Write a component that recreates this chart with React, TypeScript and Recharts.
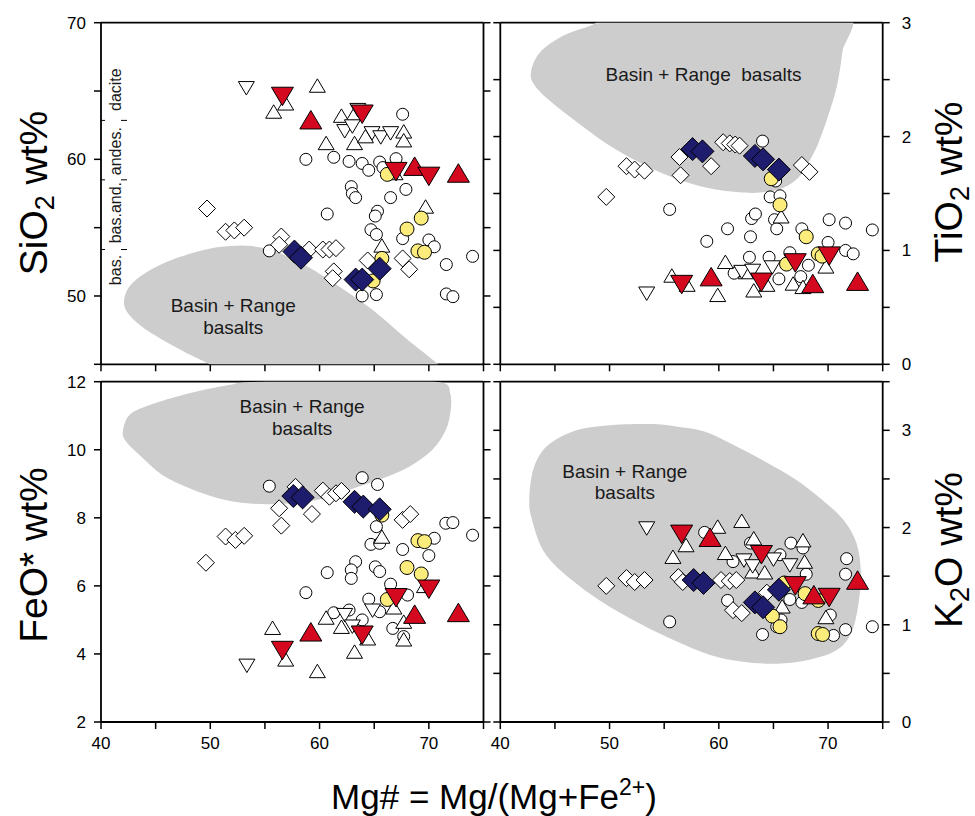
import React from "react";
import { ScatterChart, Scatter, XAxis, YAxis, ReferenceDot, ReferenceLine } from "recharts";

type Pt = [number, number];

// ---- SiO2 vs Mg# ----
const siCircles: Pt[] = [
  [67.6, 63.3], [58.75, 60.0], [61.3, 60.15], [62.7, 59.85], [63.9, 59.7], [64.5, 59.2], [65.5, 59.8], [65.8, 59.4],
  [67.0, 60.05], [67.9, 57.8], [66.5, 57.2], [62.9, 58.0], [63.0, 57.5], [63.3, 57.2], [60.7, 56.0], [65.3, 56.2],
  [65.1, 55.85], [64.7, 54.85], [65.2, 54.5], [67.6, 54.2], [70.0, 54.1], [70.5, 53.6], [71.6, 52.3], [74.0, 52.9],
  [71.6, 50.15], [72.2, 49.95], [55.4, 53.3], [63.9, 50.0], [65.2, 50.1],
];
const siYellow: Pt[] = [[66.2, 58.9], [69.3, 55.7], [68.0, 54.9], [69.0, 53.3], [69.6, 53.2], [65.7, 52.75], [64.9, 51.1]];
const siOpenUp: Pt[] = [
  [55.8, 63.5], [56.9, 64.1], [59.8, 65.4], [60.6, 61.2], [62.0, 63.2], [63.2, 63.35], [63.2, 61.2], [64.2, 61.7],
  [67.7, 62.05], [67.7, 61.4], [69.7, 56.55], [65.7, 53.7], [66.9, 59.0],
];
const siOpenDown: Pt[] = [[53.3, 65.2], [62.3, 62.05], [63.0, 62.4], [64.8, 61.9], [65.6, 61.6], [66.5, 61.9], [63.5, 63.6]];
const siRedUp: Pt[] = [[59.2, 62.9], [68.7, 59.5], [72.7, 59.0]];
const siRedDown: Pt[] = [[56.6, 64.6], [63.9, 63.3], [67.0, 59.1], [70.0, 58.75]];
const siDiamonds: Pt[] = [
  [49.7, 56.4], [51.4, 54.7], [52.2, 54.8], [53.1, 55.0], [56.5, 54.35], [56.3, 53.75], [59.05, 53.4], [60.3, 53.4],
  [60.9, 53.4], [61.5, 53.5], [61.3, 51.8], [61.2, 51.3], [64.4, 52.6], [67.6, 52.75], [68.2, 51.95],
];
const siNavy: Pt[] = [[57.7, 53.25], [58.3, 52.8], [63.3, 51.2], [63.9, 51.2], [65.5, 52.0]];
const siField: Pt[] = [
  [42.1, 49.6], [42.6, 50.7], [44.1, 51.7], [46.5, 52.65], [49.6, 53.4], [51.8, 53.65], [53.8, 53.65], [56.0, 53.25],
  [58.8, 52.2], [61.8, 50.7], [64.9, 48.95], [67.9, 46.9], [71.4, 44.6], [72.7, 43.2], [62.0, 43.0], [52.5, 44.3],
  [49.2, 45.3], [46.6, 46.35], [44.0, 47.6], [42.5, 48.7],
];
const rockBands = ["dacite", "andes.", "bas.and.", "bas."];
const rockBandCentres = [65.1, 60.6, 56.1, 51.9];
const rockBandLimits = [62.85, 58.5, 53.4];

// ---- TiO2 vs Mg# ----
const tiCircles: Pt[] = [
  [64.0, 1.96], [55.5, 1.36], [58.9, 1.08], [60.8, 1.19], [62.9, 1.12], [63.0, 1.28], [63.35, 1.32], [64.7, 1.47],
  [65.6, 1.48], [65.1, 1.27], [65.3, 1.19], [67.6, 1.19], [70.1, 1.27], [71.6, 1.24], [74.05, 1.18], [70.0, 1.07],
  [71.6, 1.0], [72.3, 0.97], [66.5, 0.98], [64.6, 0.94], [62.8, 0.94], [61.4, 0.8], [65.2, 1.61], [67.5, 0.77],
  [68.2, 0.87], [65.5, 0.75],
];
const tiYellow: Pt[] = [[64.8, 1.63], [65.6, 1.4], [68.0, 1.12], [69.1, 0.97], [69.45, 0.95], [66.2, 0.88]];
const tiOpenUp: Pt[] = [
  [55.7, 0.78], [57.1, 0.7], [59.9, 0.61], [60.6, 0.9], [62.5, 0.81], [63.2, 0.65], [64.4, 0.7], [65.7, 1.3],
  [66.8, 0.71], [67.7, 0.68], [69.8, 0.86],
];
const tiOpenDown: Pt[] = [[53.4, 0.62], [62.1, 0.81], [63.1, 0.82], [64.9, 0.85]];
const tiRedUp: Pt[] = [[59.3, 0.77], [68.6, 0.71], [72.7, 0.73]];
const tiRedDown: Pt[] = [[56.6, 0.7], [63.9, 0.72], [67.0, 0.89], [70.1, 0.95]];
const tiDiamonds: Pt[] = [
  [49.7, 1.47], [51.55, 1.74], [52.3, 1.71], [53.2, 1.7], [56.4, 1.82], [56.5, 1.66], [59.3, 1.74], [60.4, 1.95],
  [61.0, 1.94], [61.5, 1.93], [61.9, 1.92], [67.6, 1.75], [68.3, 1.69],
];
const tiNavy: Pt[] = [[57.6, 1.89], [58.5, 1.87], [63.3, 1.83], [64.05, 1.8], [65.5, 1.71]];
const tiField: Pt[] = [
  [42.8, 2.56], [43.2, 2.68], [44.2, 2.79], [46.1, 2.9], [48.2, 2.97], [50.5, 3.05], [61.0, 3.2], [71.6, 3.1],
  [71.3, 2.74], [70.8, 2.44], [70.0, 2.18], [69.1, 1.94], [68.2, 1.77], [67.3, 1.64], [65.9, 1.55], [64.0, 1.51],
  [61.9, 1.51], [58.9, 1.55], [55.8, 1.64], [52.8, 1.77], [49.7, 1.94], [46.7, 2.15], [44.2, 2.34], [43.0, 2.47],
];

// ---- FeO* vs Mg# ----
const feCircles: Pt[] = [
  [55.4, 8.93], [63.9, 9.18], [65.3, 8.98], [65.2, 7.74], [64.7, 7.22], [65.5, 7.25], [67.6, 7.07], [70.0, 6.89],
  [70.5, 7.4], [71.55, 7.84], [72.2, 7.86], [74.0, 7.49], [63.3, 6.71], [62.9, 6.47], [62.9, 6.22], [60.7, 6.39],
  [65.1, 6.56], [65.5, 6.42], [66.5, 6.05], [58.75, 5.8], [64.5, 5.61], [65.5, 5.24], [68.05, 5.73], [61.3, 5.21],
  [62.7, 5.29], [63.9, 5.0], [66.7, 4.75], [67.7, 4.51],
];
const feYellow: Pt[] = [[65.7, 8.08], [69.0, 7.33], [69.6, 7.3], [68.0, 6.54], [69.3, 6.35], [66.2, 5.6]];
const feOpenUp: Pt[] = [
  [55.7, 4.77], [56.9, 3.84], [59.8, 3.5], [60.6, 5.07], [62.0, 4.8], [63.2, 4.07], [65.7, 7.45], [66.8, 5.37],
  [67.7, 4.95], [67.7, 4.43], [69.6, 6.0], [64.4, 4.46],
];
const feOpenDown: Pt[] = [[53.35, 3.65], [62.3, 5.14], [63.0, 4.8], [64.85, 5.27]];
const feRedUp: Pt[] = [[59.2, 4.65], [68.7, 5.17], [72.7, 5.22]];
const feRedDown: Pt[] = [[56.6, 4.1], [63.9, 4.55], [67.0, 5.65], [70.0, 5.9]];
const feDiamonds: Pt[] = [
  [49.6, 6.68], [51.4, 7.45], [52.3, 7.35], [53.1, 7.47], [56.3, 8.28], [56.5, 7.77], [57.8, 8.91], [59.3, 8.11],
  [60.3, 8.8], [60.9, 8.62], [61.5, 8.72], [62.0, 8.79], [67.6, 7.94], [68.3, 8.11],
];
const feNavy: Pt[] = [[57.6, 8.64], [58.45, 8.6], [63.2, 8.47], [64.0, 8.33], [65.5, 8.25]];
const feField: Pt[] = [
  [42.0, 10.53], [42.6, 11.02], [44.4, 11.31], [48.1, 11.66], [51.7, 11.9], [53.6, 11.99], [60.0, 12.08],
  [67.0, 12.06], [71.25, 11.97], [71.95, 11.66], [72.0, 11.17], [71.55, 10.58], [70.3, 9.99], [68.2, 9.5],
  [65.8, 9.16], [62.7, 8.82], [59.7, 8.52], [56.6, 8.41], [53.6, 8.42], [50.8, 8.57], [48.1, 8.87], [45.6, 9.26],
  [43.5, 9.85], [42.3, 10.24],
];

// ---- K2O vs Mg# ----
const kCircles: Pt[] = [
  [58.7, 1.95], [55.5, 1.03], [61.3, 1.65], [62.9, 1.84], [65.6, 1.72], [66.6, 1.84], [67.7, 1.79], [68.0, 1.52],
  [71.7, 1.68], [71.6, 1.52], [74.05, 0.98], [71.6, 0.95], [70.5, 0.89], [64.0, 0.9], [65.3, 0.98], [60.8, 1.25],
  [66.5, 1.26], [67.6, 1.23], [70.2, 1.1], [65.7, 1.05],
];
const kYellow: Pt[] = [[64.9, 1.09], [65.6, 0.98], [67.9, 1.32], [69.1, 1.25], [69.1, 0.91], [69.5, 0.9], [66.0, 1.43]];
const kOpenUp: Pt[] = [
  [59.9, 2.01], [62.1, 2.07], [57.0, 1.82], [55.8, 1.7], [60.6, 1.74], [63.2, 1.89], [67.7, 1.87], [67.85, 1.65],
  [63.1, 1.55], [64.2, 1.54], [65.8, 1.19], [69.8, 1.08],
];
const kOpenDown: Pt[] = [[53.4, 1.99], [62.3, 1.66], [63.1, 1.6], [65.0, 1.67], [66.5, 1.61]];
const kRedUp: Pt[] = [[59.2, 1.9], [68.7, 1.31], [72.7, 1.46]];
const kRedDown: Pt[] = [[56.6, 1.93], [63.9, 1.72], [67.0, 1.4], [70.1, 1.28]];
const kDiamonds: Pt[] = [
  [49.7, 1.4], [51.55, 1.48], [52.3, 1.44], [53.2, 1.46], [56.3, 1.49], [56.7, 1.44], [60.2, 1.46], [61.0, 1.45],
  [61.6, 1.46], [61.3, 1.15], [62.1, 1.12], [64.4, 1.33],
];
const kNavy: Pt[] = [[57.7, 1.46], [58.6, 1.43], [63.3, 1.23], [64.05, 1.18], [65.5, 1.36]];
const kField: Pt[] = [
  [53.7, 3.065], [56.1, 3.04], [58.6, 2.99], [61.0, 2.87], [64.05, 2.69], [67.1, 2.49], [69.5, 2.28], [71.4, 2.08],
  [72.6, 1.84], [73.0, 1.53], [72.75, 1.19], [72.1, 0.91], [70.8, 0.74], [68.3, 0.64], [65.3, 0.6], [62.2, 0.62],
  [59.2, 0.69], [56.1, 0.83], [52.8, 1.01], [49.1, 1.25], [45.8, 1.53], [43.9, 1.77], [42.9, 2.08], [42.65, 2.28],
  [43.0, 2.59], [44.2, 2.83], [46.7, 2.99], [49.7, 3.05],
];

const mgTicks = [40, 45, 50, 55, 60, 65, 70, 75];
const mgLabels = [40, 50, 60, 70];
const siTicks = [45, 50, 55, 60, 65, 70];
const siLabels = [50, 60, 70];
const tiTicks = [0, 0.5, 1, 1.5, 2, 2.5, 3];
const tiLabels = [0, 1, 2, 3];
const feTicks = [2, 4, 6, 8, 10, 12];
const kTicks = [0, 0.5, 1, 1.5, 2, 2.5, 3, 3.5];
const kLabels = [0, 1, 2, 3];

const W = 975;
const H = 816;
const FONT = "'Liberation Sans', Arial, Helvetica, sans-serif";
const GREY = "#cdcdcd";
const RED = "#d4081f";
const NAVY = "#1e1c6c";
const YELLOW = "#fbec7c";

const rows = (a: Pt[]) => a.map(([x, y]) => ({ x, y }));

// closed Catmull-Rom outline through the scaled field points
function closedSpline(pts: { x: number; y: number }[]) {
  const n = pts.length;
  if (!n) return "";
  let d = `M${pts[0].x},${pts[0].y}`;
  for (let i = 0; i < n; i++) {
    const p0 = pts[(i - 1 + n) % n];
    const p1 = pts[i];
    const p2 = pts[(i + 1) % n];
    const p3 = pts[(i + 2) % n];
    const c1x = p1.x + (p2.x - p0.x) / 6;
    const c1y = p1.y + (p2.y - p0.y) / 6;
    const c2x = p2.x - (p3.x - p1.x) / 6;
    const c2y = p2.y - (p3.y - p1.y) / 6;
    d += `C${c1x},${c1y} ${c2x},${c2y} ${p2.x},${p2.y}`;
  }
  return d + "Z";
}

const fieldOutline = (props: any) => <path d={closedSpline(props.points || [])} fill={GREY} stroke="none" />;
const noDot = () => <g />;

const dot = (r: number, fill: string) => (p: any) => (
  <circle cx={p.cx} cy={p.cy} r={r} fill={fill} stroke="#000" strokeWidth={1} />
);
const tri = (s: number, fill: string, down: boolean) => (p: any) => {
  const h = s * 0.84;
  const k = down ? -1 : 1;
  const { cx, cy } = p;
  return (
    <polygon
      points={`${cx - s / 2},${cy + (k * h) / 2} ${cx + s / 2},${cy + (k * h) / 2} ${cx},${cy - (k * h) / 2}`}
      fill={fill}
      stroke="#000"
      strokeWidth={1}
    />
  );
};
const diamond = (r: number, fill: string) => (p: any) => (
  <polygon
    points={`${p.cx},${p.cy - r} ${p.cx + r},${p.cy} ${p.cx},${p.cy + r} ${p.cx - r},${p.cy}`}
    fill={fill}
    stroke="#000"
    strokeWidth={1}
  />
);

const openCircle = dot(6, "#fff");
const yellowCircle = dot(7, YELLOW);
const openUp = tri(16, "#fff", false);
const openDown = tri(16, "#fff", true);
const redUp = tri(22, RED, false);
const redDown = tri(22, RED, true);
const openDiamond = diamond(8.5, "#fff");
const navyDiamond = diamond(11.5, NAVY);

const noteText = (lines: string[]) => (p: any) => (
  <text x={p.cx} y={p.cy} textAnchor="middle" fontSize={19} fontFamily={FONT} fill="#1a1a1a" style={{ whiteSpace: "pre" }}>
    {lines.map((l, i) => (
      <tspan key={i} x={p.cx} dy={i === 0 ? 0 : 21.5}>
        {l}
      </tspan>
    ))}
  </text>
);

const bandText = (t: string) => (p: any) => (
  <text
    x={p.cx}
    y={p.cy}
    textAnchor="middle"
    dominantBaseline="central"
    fontSize={16}
    fontFamily={FONT}
    fill="#1a1a1a"
    transform={`rotate(-90 ${p.cx} ${p.cy})`}
  >
    {t}
  </text>
);

const TICK_TEXT = { fontSize: 17, fill: "#000", fontFamily: FONT };
const AXIS_LINE = { stroke: "#000", strokeWidth: 1.8 };
const TICK_LINE = { stroke: "#000", strokeWidth: 1.5 };
const blank = () => "";
const only = (labels: number[]) => (v: number) => (labels.includes(v) ? String(v) : "");

function yTitle(x: number, y: number, parts: [string, string, string]) {
  return (
    <text x={x} y={y} textAnchor="middle" fontSize={39} fontFamily={FONT} fill="#000" transform={`rotate(-90 ${x} ${y})`}>
      {parts[0]}
      <tspan fontSize={27} dy={7}>
        {parts[1]}
      </tspan>
      <tspan dy={-7}>{parts[2]}</tspan>
    </text>
  );
}

const xTitle = (
  <text x={494} y={809} textAnchor="middle" fontSize={35} fontFamily={FONT} fill="#000">
    Mg# = Mg/(Mg+Fe
    <tspan fontSize={23} dy={-14}>
      2+
    </tspan>
    <tspan dy={14}>)</tspan>
  </text>
);

interface Series {
  data: Pt[];
  shape: (p: any) => React.ReactElement;
}

interface PanelProps {
  cols: [number, number];
  band: [number, number];
  yDomain: [number, number];
  yTicks: number[];
  yLabels: number[];
  side: "left" | "right";
  xLabels: boolean;
  field: Pt[];
  series: Series[];
  notes: { x: number; y: number; lines: string[] }[];
  title: React.ReactElement;
  xTitle?: React.ReactElement;
  rockScale?: boolean;
}

function Panel(p: PanelProps) {
  const [x0, x1] = p.cols;
  const [y0, y1] = p.band;
  const margin = { left: x0 - 30, right: W - x1 - 30, top: y0 - 10, bottom: H - y1 - 30 };
  const common = {
    type: "number" as const,
    allowDataOverflow: true,
    tickSize: 7,
    axisLine: AXIS_LINE,
    tickLine: TICK_LINE,
    tick: TICK_TEXT,
    interval: 0 as const,
  };
  const yFmt = only(p.yLabels);
  return (
    <div style={{ position: "absolute", left: 0, top: 0 }}>
      <ScatterChart width={W} height={H} margin={margin}>
        <XAxis
          xAxisId="b"
          dataKey="x"
          orientation="bottom"
          domain={[40, 75]}
          ticks={mgTicks}
          height={30}
          tickMargin={8}
          tickFormatter={p.xLabels ? only(mgLabels) : blank}
          label={p.xTitle ? { content: () => p.xTitle } : undefined}
          {...common}
        />
        <XAxis xAxisId="t" orientation="top" domain={[40, 75]} ticks={mgTicks} height={10} tickFormatter={blank} {...common} />
        <YAxis
          yAxisId="l"
          dataKey="y"
          orientation="left"
          domain={p.yDomain}
          ticks={p.yTicks}
          width={30}
          tickMargin={8}
          tickFormatter={p.side === "left" ? yFmt : blank}
          label={p.side === "left" ? { content: () => p.title } : undefined}
          {...common}
        />
        <YAxis
          yAxisId="r"
          orientation="right"
          domain={p.yDomain}
          ticks={p.yTicks}
          width={30}
          tickMargin={12}
          tickFormatter={p.side === "right" ? yFmt : blank}
          label={p.side === "right" ? { content: () => p.title } : undefined}
          {...common}
        />
        <Scatter
          xAxisId="b"
          yAxisId="l"
          data={rows(p.field)}
          line={fieldOutline}
          shape={noDot}
          isAnimationActive={false}
        />
        {p.notes.map((n, i) => (
          <ReferenceDot key={`n${i}`} xAxisId="b" yAxisId="l" x={n.x} y={n.y} r={0} shape={noteText(n.lines)} />
        ))}
        {p.rockScale &&
          rockBands.map((t, i) => (
            <ReferenceDot key={`rb${i}`} xAxisId="b" yAxisId="l" x={41.37} y={rockBandCentres[i]} r={0} shape={bandText(t)} />
          ))}
        {p.rockScale &&
          rockBandLimits.map((v, i) => (
            <ReferenceLine
              key={`rl${i}`}
              xAxisId="b"
              yAxisId="l"
              segment={[
                { x: 40, y: v },
                { x: 42.5, y: v },
              ]}
              stroke="#000"
              strokeWidth={1}
              strokeDasharray="4 16 6"
            />
          ))}
        {p.series.map((s, i) => (
          <Scatter
            key={`s${i}`}
            xAxisId="b"
            yAxisId="l"
            data={rows(s.data)}
            shape={s.shape}
            isAnimationActive={false}
          />
        ))}
      </ScatterChart>
    </div>
  );
}

const LEFT: [number, number] = [101, 483.5];
const RIGHT: [number, number] = [500.3, 882.7];
const TOP: [number, number] = [22.7, 364.3];
const BOTTOM: [number, number] = [381.7, 722];

const seriesOf = (
  circles: Pt[],
  diamonds: Pt[],
  up: Pt[],
  down: Pt[],
  yellow: Pt[],
  navy: Pt[],
  rUp: Pt[],
  rDown: Pt[]
): Series[] => [
  { data: circles, shape: openCircle },
  { data: diamonds, shape: openDiamond },
  { data: up, shape: openUp },
  { data: down, shape: openDown },
  { data: yellow, shape: yellowCircle },
  { data: navy, shape: navyDiamond },
  { data: rUp, shape: redUp },
  { data: rDown, shape: redDown },
];

export default function App() {
  return (
    <div style={{ position: "absolute", left: 0, top: 0, width: W, height: H, background: "#fff" }}>
      <Panel
        cols={LEFT}
        band={TOP}
        yDomain={[45, 70]}
        yTicks={siTicks}
        yLabels={siLabels}
        side="left"
        xLabels={false}
        field={siField}
        series={seriesOf(siCircles, siDiamonds, siOpenUp, siOpenDown, siYellow, siNavy, siRedUp, siRedDown)}
        notes={[{ x: 52.1, y: 48.82, lines: ["Basin + Range", "basalts"] }]}
        title={yTitle(47, 193, ["SiO", "2", " wt%"])}
        rockScale
      />
      <Panel
        cols={RIGHT}
        band={TOP}
        yDomain={[0, 3]}
        yTicks={tiTicks}
        yLabels={tiLabels}
        side="right"
        xLabels={false}
        field={tiField}
        series={seriesOf(tiCircles, tiDiamonds, tiOpenUp, tiOpenDown, tiYellow, tiNavy, tiRedUp, tiRedDown)}
        notes={[{ x: 58.6, y: 2.49, lines: ["Basin + Range  basalts"] }]}
        title={yTitle(962, 182, ["TiO", "2", " wt%"])}
      />
      <Panel
        cols={LEFT}
        band={BOTTOM}
        yDomain={[2, 12]}
        yTicks={feTicks}
        yLabels={feTicks}
        side="left"
        xLabels
        field={feField}
        series={seriesOf(feCircles, feDiamonds, feOpenUp, feOpenDown, feYellow, feNavy, feRedUp, feRedDown)}
        notes={[{ x: 58.4, y: 11.07, lines: ["Basin + Range", "basalts"] }]}
        title={yTitle(47, 555, ["FeO* wt%", "", ""])}
        xTitle={xTitle}
      />
      <Panel
        cols={RIGHT}
        band={BOTTOM}
        yDomain={[0, 3.5]}
        yTicks={kTicks}
        yLabels={kLabels}
        side="right"
        xLabels
        field={kField}
        series={seriesOf(kCircles, kDiamonds, kOpenUp, kOpenDown, kYellow, kNavy, kRedUp, kRedDown)}
        notes={[{ x: 51.4, y: 2.51, lines: ["Basin + Range", "basalts"] }]}
        title={yTitle(962, 550, ["K", "2", "O wt%"])}
      />
    </div>
  );
}
